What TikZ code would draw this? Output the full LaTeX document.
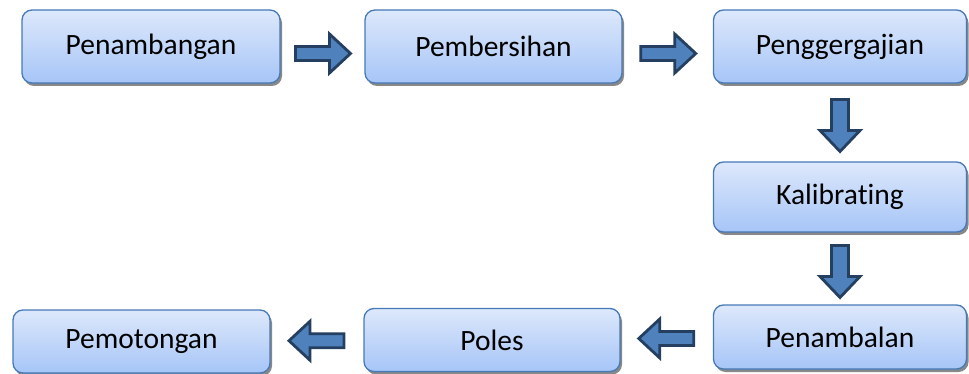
\documentclass[tikz,border=0pt]{standalone}
\usepackage{fontspec}
\setmainfont{Carlito}[Ligatures={NoCommon}]
\usetikzlibrary{calc,shadows}
\definecolor{boxtop}{HTML}{DDE8FB}
\definecolor{boxbot}{HTML}{A6C5F7}
\definecolor{boxline}{HTML}{4579B8}
\definecolor{arrfill}{HTML}{4F81BD}
\definecolor{arrline}{HTML}{243F60}
\tikzset{
  stepbox/.style={draw=boxline, line width=1.3pt, rounded corners=10pt,
    top color=boxtop, bottom color=boxbot, inner sep=0pt,
    drop shadow={shadow xshift=2pt, shadow yshift=-3pt, fill=black!55, opacity=0.85},
    font=\fontsize{29.5}{35}\selectfont, text=black},
  flowarr/.style={fill=arrfill, draw=arrline, line width=2.8pt, line join=miter},
}
\newcommand\harrow[3]{% from, to, yshift ; arrow pointing from #1 to #2
  \begin{scope}[shift={($(#1)!0.5!(#2)+(0,#3)$)}]
    \draw[flowarr] let \p1=($(#2)-(#1)$), \n1={sign(\x1)} in
      (-27*\n1,-7) -- (7*\n1,-7) -- (7*\n1,-19.5) -- (28*\n1,0) -- (7*\n1,19.5) -- (7*\n1,7) -- (-27*\n1,7) -- cycle;
  \end{scope}}
\newcommand\varrow[2]{%
  \begin{scope}[shift={($(#1)!0.5!(#2)+(0,3)$)}]
    \draw[flowarr] (-8.5,-26) -- (8.5,-26) -- (8.5,5) -- (20,5) -- (0,26) -- (-20,5) -- (-8.5,5) -- cycle;
  \end{scope}}
\begin{document}
\begin{tikzpicture}[x=1pt,y=-1pt]
\useasboundingbox (0,0) rectangle (969,374);
\node[stepbox, minimum width=258pt, minimum height=73pt] (b1) at (151,46.5) {Penambangan};
\node[stepbox, minimum width=257pt, minimum height=73pt] (b2) at (493.5,46.5) {Pembersihan};
\node[stepbox, minimum width=253pt, minimum height=73pt] (b3) at (840,46.5) {Penggergajian};
\node[stepbox, minimum width=253pt, minimum height=70pt] (b4) at (840,197) {Kalibrating};
\node[stepbox, minimum width=253pt, minimum height=64pt] (b5) at (840,337) {Penambalan};
\node[stepbox, minimum width=256pt, minimum height=63pt] (b6) at (492,340) {Poles};
\node[stepbox, minimum width=257pt, minimum height=63pt] (b7) at (141.5,341.5) {Pemotongan};
\harrow{b1.east}{b2.west}{7}
\harrow{b2.east}{b3.west}{7}
\varrow{b3.south}{b4.north}
\varrow{b4.south}{b5.north}
\harrow{b5.west}{b6.east}{0}
\harrow{b6.west}{b7.east}{0}
\end{tikzpicture}
\end{document}
